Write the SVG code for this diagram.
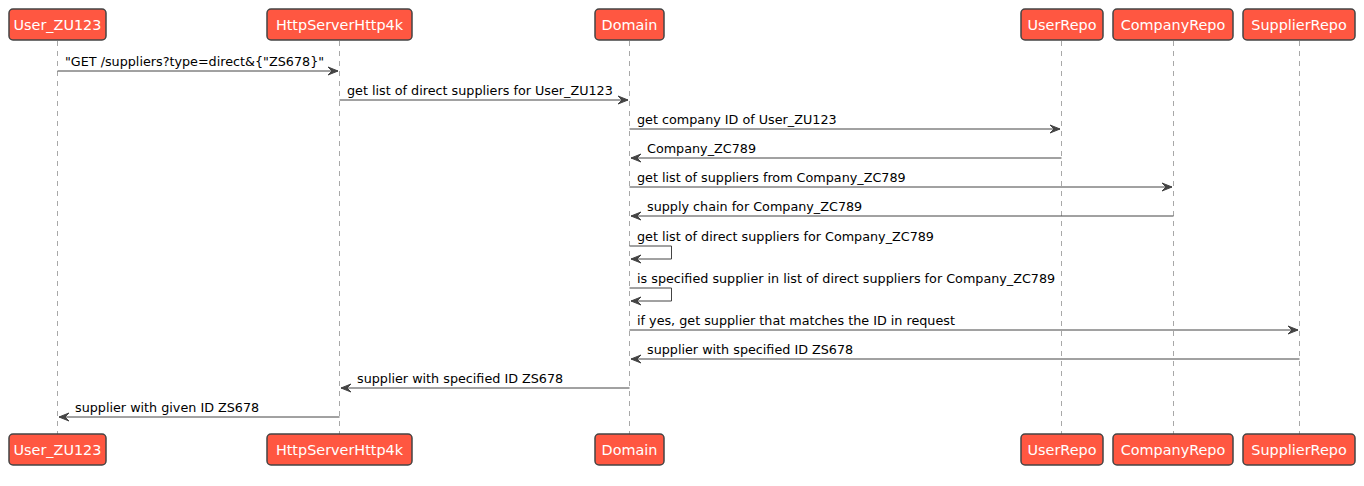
<svg xmlns="http://www.w3.org/2000/svg" width="1364" height="486" viewBox="0 0 1364 486">
<defs>
<style>
.box{fill:#FF5741;stroke:#444444;stroke-width:1.5}
.pt{font-family:"DejaVu Sans",sans-serif;font-size:14.4px;fill:#FFFFFF;text-anchor:middle}
.life{stroke:#A8A8A8;stroke-width:1;stroke-dasharray:5,5}
.msg{stroke:#444444;stroke-width:1;fill:none}
.mt{font-family:"DejaVu Sans",sans-serif;font-size:12.75px;fill:#000000}
.ah{fill:#444444;stroke:#444444;stroke-width:1}
</style>
</defs>
<rect width="1364" height="486" fill="#FFFFFF"/>
<g id="lifelines">
<line class="life" x1="57.5" y1="41" x2="57.5" y2="434"/>
<line class="life" x1="339.5" y1="41" x2="339.5" y2="434"/>
<line class="life" x1="629.5" y1="41" x2="629.5" y2="434"/>
<line class="life" x1="1061.5" y1="41" x2="1061.5" y2="434"/>
<line class="life" x1="1173.5" y1="41" x2="1173.5" y2="434"/>
<line class="life" x1="1299.5" y1="41" x2="1299.5" y2="434"/>
</g>
<g id="User_ZU123">
<rect class="box" x="9" y="9" width="97" height="31" rx="4"/><text class="pt" x="57.5" y="30">User_ZU123</text>
<rect class="box" x="9" y="434" width="97" height="31" rx="4"/><text class="pt" x="57.5" y="455">User_ZU123</text>
</g>
<g id="HttpServerHttp4k">
<rect class="box" x="267" y="9" width="145" height="31" rx="4"/><text class="pt" x="339.5" y="30">HttpServerHttp4k</text>
<rect class="box" x="267" y="434" width="145" height="31" rx="4"/><text class="pt" x="339.5" y="455">HttpServerHttp4k</text>
</g>
<g id="Domain">
<rect class="box" x="595" y="9" width="69" height="31" rx="4"/><text class="pt" x="629.5" y="30">Domain</text>
<rect class="box" x="595" y="434" width="69" height="31" rx="4"/><text class="pt" x="629.5" y="455">Domain</text>
</g>
<g id="UserRepo">
<rect class="box" x="1021" y="9" width="82" height="31" rx="4"/><text class="pt" x="1062" y="30">UserRepo</text>
<rect class="box" x="1021" y="434" width="82" height="31" rx="4"/><text class="pt" x="1062" y="455">UserRepo</text>
</g>
<g id="CompanyRepo">
<rect class="box" x="1113" y="9" width="120" height="31" rx="4"/><text class="pt" x="1173" y="30">CompanyRepo</text>
<rect class="box" x="1113" y="434" width="120" height="31" rx="4"/><text class="pt" x="1173" y="455">CompanyRepo</text>
</g>
<g id="SupplierRepo">
<rect class="box" x="1243" y="9" width="112" height="31" rx="4"/><text class="pt" x="1299" y="30">SupplierRepo</text>
<rect class="box" x="1243" y="434" width="112" height="31" rx="4"/><text class="pt" x="1299" y="455">SupplierRepo</text>
</g>
<g id="connectors">
<line class="msg" x1="57.5" y1="71" x2="338" y2="71"/>
<polygon class="ah" points="328,67 338,71 328,75 332,71"/>
<text class="mt" x="65" y="66">"GET /suppliers?type=direct&amp;{"ZS678}"</text>

<line class="msg" x1="339.5" y1="100" x2="628" y2="100"/>
<polygon class="ah" points="618,96 628,100 618,104 622,100"/>
<text class="mt" x="347" y="95">get list of direct suppliers for User_ZU123</text>

<line class="msg" x1="629.5" y1="129" x2="1060" y2="129"/>
<polygon class="ah" points="1050,125 1060,129 1050,133 1054,129"/>
<text class="mt" x="637" y="124">get company ID of User_ZU123</text>

<line class="msg" x1="631" y1="158" x2="1061.5" y2="158"/>
<polygon class="ah" points="641,154 631,158 641,162 637,158"/>
<text class="mt" x="647" y="153">Company_ZC789</text>

<line class="msg" x1="629.5" y1="187" x2="1172" y2="187"/>
<polygon class="ah" points="1162,183 1172,187 1162,191 1166,187"/>
<text class="mt" x="637" y="182">get list of suppliers from Company_ZC789</text>

<line class="msg" x1="631" y1="216" x2="1173.5" y2="216"/>
<polygon class="ah" points="641,212 631,216 641,220 637,216"/>
<text class="mt" x="647" y="211">supply chain for Company_ZC789</text>

<polyline class="msg" points="629.5,246 671.5,246 671.5,259 631,259"/>
<polygon class="ah" points="641,255 631,259 641,263 637,259"/>
<text class="mt" x="637" y="241">get list of direct suppliers for Company_ZC789</text>

<polyline class="msg" points="629.5,288 671.5,288 671.5,301 631,301"/>
<polygon class="ah" points="641,297 631,301 641,305 637,301"/>
<text class="mt" x="637" y="283">is specified supplier in list of direct suppliers for Company_ZC789</text>

<line class="msg" x1="629.5" y1="330" x2="1298" y2="330"/>
<polygon class="ah" points="1288,326 1298,330 1288,334 1292,330"/>
<text class="mt" x="637" y="325">if yes, get supplier that matches the ID in request</text>

<line class="msg" x1="631" y1="359" x2="1299.5" y2="359"/>
<polygon class="ah" points="641,355 631,359 641,363 637,359"/>
<text class="mt" x="647" y="354">supplier with specified ID ZS678</text>

<line class="msg" x1="341" y1="388" x2="629.5" y2="388"/>
<polygon class="ah" points="351,384 341,388 351,392 347,388"/>
<text class="mt" x="357" y="383">supplier with specified ID ZS678</text>

<line class="msg" x1="59" y1="417" x2="339.5" y2="417"/>
<polygon class="ah" points="69,413 59,417 69,421 65,417"/>
<text class="mt" x="75" y="412">supplier with given ID ZS678</text>
</g>
</svg>
